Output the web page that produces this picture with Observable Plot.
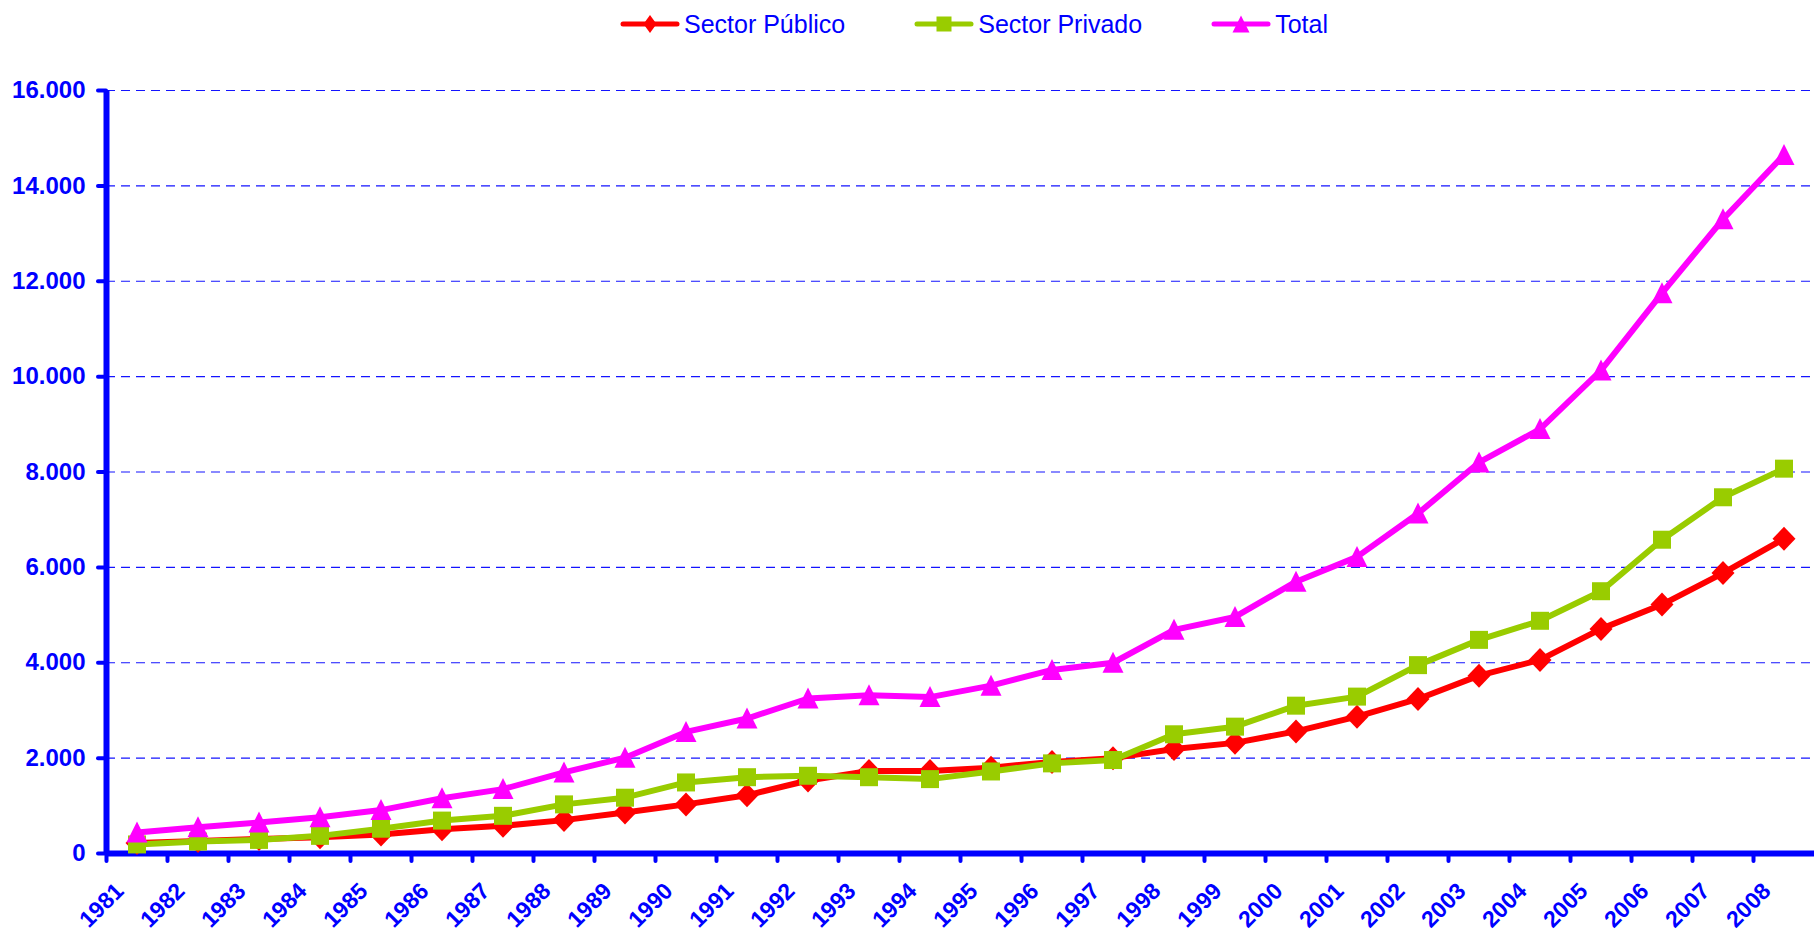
<!DOCTYPE html>
<html>
<head>
<meta charset="utf-8">
<script src="https://cdn.jsdelivr.net/npm/d3@7"></script>
<script src="https://cdn.jsdelivr.net/npm/@observablehq/plot@0.6"></script>
<style>
  html, body { margin: 0; padding: 0; background: #fff; }
  body { width: 1814px; height: 931px; overflow: hidden; font-family: "Liberation Sans", Arial, sans-serif; }
  #legend { height: 40px; box-sizing: border-box; padding-top: 12px; padding-left: 620px; display: flex; gap: 69px; }
  .item { display: flex; align-items: center; height: 24px; }
  .item span { font-size: 25px; line-height: 24px; color: #0000ff; margin-left: 4px; white-space: nowrap; }
  .item svg { display: block; }
</style>
</head>
<body>
<div id="legend"></div>
<div id="chart"></div>
<script>
const years = [1981, 1982, 1983, 1984, 1985, 1986, 1987, 1988, 1989, 1990, 1991, 1992, 1993, 1994,
               1995, 1996, 1997, 1998, 1999, 2000, 2001, 2002, 2003, 2004, 2005, 2006, 2007, 2008];
const seriesNames = ["Sector Público", "Sector Privado", "Total"];
const publico = [220, 260, 305, 340, 400, 510, 580, 700, 860, 1030, 1220, 1530, 1730, 1730,
                 1800, 1920, 2000, 2190, 2320, 2560, 2870, 3240, 3730, 4060, 4710, 5220, 5880, 6600];
const privado = [190, 250, 285, 370, 520, 690, 790, 1030, 1170, 1490, 1600, 1630, 1600, 1560,
                 1720, 1890, 1960, 2500, 2660, 3100, 3290, 3950, 4480, 4880, 5500, 6580, 7470, 8070];
const total   = [440, 550, 650, 760, 910, 1160, 1350, 1700, 2010, 2550, 2830, 3250, 3320, 3280,
                 3520, 3850, 4000, 4690, 4960, 5700, 6220, 7130, 8200, 8900, 10130, 11750, 13300, 14650];
const yTicks = [0, 2000, 4000, 6000, 8000, 10000, 12000, 14000, 16000];

const BLUE = "#0000ff";
const colors = ["#ff0000", "#99cc00", "#ff00ff"];

// custom marker shapes
const diamond = { draw(c) { c.moveTo(0, -12); c.lineTo(11.5, 0); c.lineTo(0, 12); c.lineTo(-11.5, 0); c.closePath(); } };
const square = { draw(c) { c.moveTo(-9, -9); c.lineTo(9, -9); c.lineTo(9, 9); c.lineTo(-9, 9); c.closePath(); } };
const triangle = { draw(c) { c.moveTo(0, -11); c.lineTo(10.5, 10); c.lineTo(-10.5, 10); c.closePath(); } };
const symbols = [diamond, square, triangle];

const valuesBySeries = [publico, privado, total];
const data = seriesNames.map((name, s) => years.map((year, i) => ({ series: name, year, value: valuesBySeries[s][i] })));

const fmt = d => d3.format(",")(d).replace(/,/g, ".");

const seriesMarks = data.flatMap((rows, s) => [
  Plot.line(rows, { x: d => d.year + 0.5, y: "value", stroke: colors[s], strokeWidth: 6, strokeLinejoin: "round" }),
  Plot.dot(rows, { x: d => d.year + 0.5, y: "value", symbol: symbols[s], r: 10, fill: colors[s], stroke: "none" })
]);

const chart = Plot.plot({
  width: 1814,
  height: 891,
  marginTop: 50,
  marginBottom: 78,
  marginLeft: 106,
  marginRight: 0,
  x: { type: "linear", domain: [1981, 2009], axis: null },
  y: { domain: [0, 16000], axis: null },
  style: { fontFamily: "'Liberation Sans', Arial, sans-serif", background: "white", overflow: "visible" },
  marks: [
    Plot.ruleY(yTicks.filter(d => d > 0), { stroke: "#1414ff", strokeWidth: 1.1, strokeDasharray: "9,6" }),
    Plot.ruleX(years, { x: d => d, y1: 0, y2: 0, insetBottom: -8, stroke: BLUE, strokeWidth: 4, strokeLinecap: "round" }),
    Plot.axisY({ ticks: yTicks, label: null, tickSize: 8, tickPadding: 13, tickFormat: fmt, color: BLUE, strokeWidth: 4,
                 strokeLinecap: "round", fontSize: 24, fontWeight: "bold" }),
    Plot.ruleX([1981], { stroke: BLUE, strokeWidth: 6 }),
    Plot.ruleY([0], { stroke: BLUE, strokeWidth: 6 }),
    Plot.text(years, { x: d => d + 0.5, frameAnchor: "bottom", text: d => String(d), rotate: -45,
                       textAnchor: "end", lineAnchor: "bottom", dx: -12, dy: 39,
                       fill: BLUE, fontSize: 23, fontWeight: "bold" }),
    ...seriesMarks
  ]
});
document.getElementById("chart").appendChild(chart);

// legend
const legendShapes = [
  '<path d="M30,1 L36.5,10 L30,19 L23.5,10 Z"/>',
  '<rect x="22.5" y="2.5" width="15" height="15"/>',
  '<path d="M30,1.5 L38.5,18.5 L21.5,18.5 Z"/>'
];
const legend = document.getElementById("legend");
seriesNames.forEach((name, s) => {
  const item = document.createElement("div");
  item.className = "item";
  item.innerHTML =
    `<svg width="60" height="20" viewBox="0 0 60 20"><line x1="3" y1="10" x2="57" y2="10" stroke="${colors[s]}" stroke-width="5" stroke-linecap="round"/>` +
    `<g fill="${colors[s]}">${legendShapes[s]}</g></svg><span>${name}</span>`;
  legend.appendChild(item);
});
</script>
</body>
</html>
